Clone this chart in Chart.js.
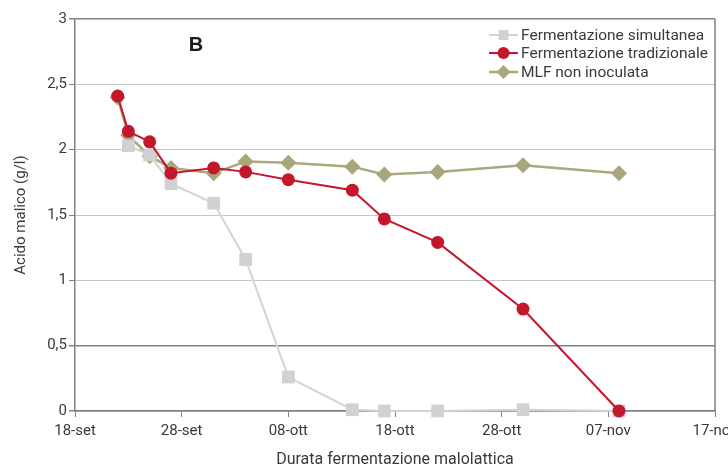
<!DOCTYPE html>
<html>
<head>
<meta charset="utf-8">
<script src="https://cdn.jsdelivr.net/npm/chart.js@4.4.1/dist/chart.umd.min.js"></script>
<style>
  html, body { margin: 0; padding: 0; background: #fff; }
  #wrap { width: 728px; height: 467px; position: relative; }
</style>
</head>
<body>
<div id="wrap"><canvas id="c" width="728" height="467"></canvas></div>
<script>
// ---- data ----
const startDate = "2012-09-18";
const sampleDates = ["2012-09-22","2012-09-23","2012-09-25","2012-09-27","2012-10-01","2012-10-04",
                     "2012-10-08","2012-10-14","2012-10-17","2012-10-22","2012-10-30","2012-11-08"];
const simultanea  = [null, 2.03, 1.96, 1.74, 1.59, 1.16, 0.26, 0.01, 0.00, 0.00, 0.01, 0.00];
const tradizionale = [2.41, 2.14, 2.06, 1.82, 1.86, 1.83, 1.77, 1.69, 1.47, 1.29, 0.78, 0.00];
const mlfNonInoc  = [2.40, 2.11, 1.95, 1.86, 1.82, 1.91, 1.90, 1.87, 1.81, 1.83, 1.88, 1.82];
const seriesNames = ["Fermentazione simultanea", "Fermentazione tradizionale", "MLF non inoculata"];
const xTickLabels = ["18-set","28-set","08-ott","18-ott","28-ott","07-nov","17-nov"];
const yTickLabels = ["0","0,5","1","1,5","2","2,5","3"];
const panelLabel = "B";
const xTitle = "Durata fermentazione malolattica";
const yTitle = "Acido malico (g/l)";

const DAY = 86400000;
const t0 = Date.parse(startDate + "T00:00:00Z");
const dayOf = d => Math.round((Date.parse(d + "T00:00:00Z") - t0) / DAY);
const toPts = vals => sampleDates.map((d, i) => ({ x: dayOf(d), y: vals[i] })).filter(p => p.y !== null);

const FONT = "Roboto, 'Liberation Sans', sans-serif";
const TXT = "#3a3a3a";
const DARK = "#808080";

const overlay = {
  id: "overlay",
  afterDraw(chart) {
    const { ctx, chartArea: a } = chart;
    ctx.save();
    // right border
    ctx.strokeStyle = DARK; ctx.lineWidth = 1.5;
    ctx.beginPath(); ctx.moveTo(a.right, a.top); ctx.lineTo(a.right, a.bottom); ctx.stroke();
    // panel label
    ctx.fillStyle = "#1a1a1a";
    ctx.font = "bold 20px 'Liberation Sans', Arial, sans-serif";
    ctx.textAlign = "center"; ctx.textBaseline = "middle";
    ctx.fillText(panelLabel, 196, 45);
    // legend
    const lx = a.right - 226, rows = [35, 53, 72];
    chart.data.datasets.forEach((ds, i) => {
      const y = rows[i], cx = lx + 14.5;
      ctx.strokeStyle = ds.borderColor; ctx.lineWidth = ds.borderWidth;
      ctx.beginPath(); ctx.moveTo(lx, y); ctx.lineTo(lx + 29, y); ctx.stroke();
      ctx.fillStyle = ds.pointBackgroundColor;
      ctx.beginPath();
      const r = ds.legendR;
      if (ds.pointStyle === "circle") ctx.arc(cx, y, r, 0, Math.PI * 2);
      else if (ds.pointStyle === "rect") ctx.rect(cx - r, y - r, 2 * r, 2 * r);
      else { ctx.moveTo(cx, y - r); ctx.lineTo(cx + r, y); ctx.lineTo(cx, y + r); ctx.lineTo(cx - r, y); ctx.closePath(); }
      ctx.fill();
      ctx.fillStyle = TXT; ctx.font = "15.5px " + FONT;
      ctx.textAlign = "left"; ctx.textBaseline = "middle";
      ctx.fillText(ds.label, lx + 32, y + 1);
    });
    ctx.restore();
  }
};

new Chart(document.getElementById("c"), {
  type: "line",
  data: {
    datasets: [
      { label: seriesNames[0], data: toPts(simultanea), borderColor: "#d2d3d5", backgroundColor: "#d2d3d5",
        pointBackgroundColor: "#d0d1d3", pointBorderColor: "#d0d1d3", borderWidth: 2,
        pointStyle: "rect", pointRadius: 9, pointBorderWidth: 0, legendR: 5, order: 2 },
      { label: seriesNames[1], data: toPts(tradizionale), borderColor: "#c3172c", backgroundColor: "#c3172c",
        pointBackgroundColor: "#c3172c", pointBorderColor: "#c3172c", borderWidth: 2,
        pointStyle: "circle", pointRadius: 6.5, pointBorderWidth: 0, legendR: 6, order: 1 },
      { label: seriesNames[2], data: toPts(mlfNonInoc), borderColor: "#aaa87c", backgroundColor: "#aaa87c",
        pointBackgroundColor: "#a8a67a", pointBorderColor: "#a8a67a", borderWidth: 2.5,
        pointStyle: "rectRot", pointRadius: 8, pointBorderWidth: 0, legendR: 7, order: 3 }
    ]
  },
  options: {
    responsive: false, animation: false,
    layout: { padding: { top: 19, right: 13, bottom: 0, left: 0 } },
    elements: { line: { tension: 0 } },
    datasets: { line: { clip: false } },
    plugins: { legend: { display: false }, tooltip: { enabled: false } },
    scales: {
      x: {
        type: "linear", min: 0, max: 60,
        afterBuildTicks: s => { s.ticks = xTickLabels.map((_, i) => ({ value: i * 10 })); },
        afterFit: s => { s.height = 56; s.paddingLeft = 0; s.paddingRight = 0; },
        ticks: { autoSkip: false, maxRotation: 0, padding: 5, color: TXT,
                 font: { family: FONT, size: 15 },
                 callback: (v, i) => xTickLabels[i] },
        grid: { drawOnChartArea: false, drawTicks: true, tickLength: 6, tickColor: DARK, lineWidth: 1 },
        border: { color: DARK, width: 1.5 },
        title: { display: true, text: xTitle, color: TXT, font: { family: FONT, size: 16, lineHeight: 1 },
                 padding: { top: 4, bottom: -1 } }
      },
      y: {
        min: 0, max: 3,
        afterBuildTicks: s => { s.ticks = yTickLabels.map((_, i) => ({ value: i * 0.5 })); },
        afterFit: s => { s.width = 75; },
        ticks: { padding: 2, color: TXT, font: { family: FONT, size: 15 },
                 callback: (v, i) => yTickLabels[i] },
        grid: {
          color: c => (c.tick && [0, 0.5, 3].includes(c.tick.value)) ? DARK : "#c6c6c6",
          lineWidth: c => (c.tick && [0, 0.5, 3].includes(c.tick.value)) ? 1.5 : 1,
          tickColor: DARK, tickLength: 6, drawTicks: true
        },
        border: { color: DARK, width: 1.5 },
        title: { display: true, text: yTitle, color: TXT, font: { family: FONT, size: 15 },
                 padding: { top: 12, bottom: 0 } }
      }
    }
  },
  plugins: [overlay]
});
</script>
</body>
</html>
